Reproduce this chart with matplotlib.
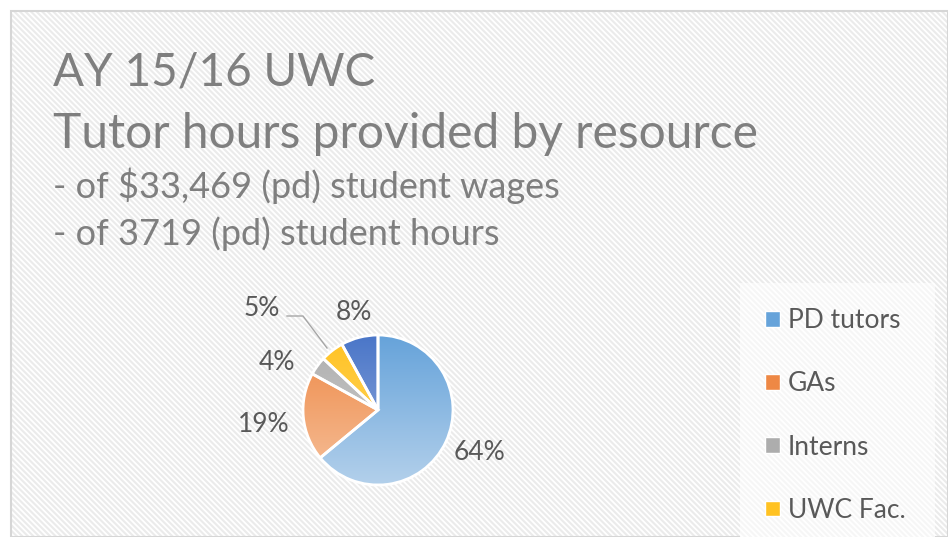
import numpy as np
import matplotlib
matplotlib.use("Agg")
import matplotlib.pyplot as plt
from matplotlib.patches import Rectangle

plt.rcParams['font.family'] = ['Lato', 'DejaVu Sans']
plt.rcParams['hatch.linewidth'] = 1.3

# data
resources = ["PD tutors", "GAs", "Interns", "UWC Fac.", "Other"]
shares = [64, 19, 4, 5, 8]
top_colors = ["#66A3DA", "#EE8845", "#ADADAD", "#FFC222", "#4A76C8"]
bottom_colors = ["#B3D0EB", "#F6C19C", "#D4D4D4", "#FFDA70", "#9AB0DE"]
# label positions (pixels, image coords)
label_pos = [(480, 453), (264, 424), (277, 363), (262, 308), (354, 313)]
n_legend = 4  # only four entries fit in the visible frame

title_lines = ["AY 15/16 UWC", "Tutor hours provided by resource"]
sub_lines = ["- of $33,469 (pd) student wages", "- of 3719 (pd) student hours"]

W, H = 948, 537
fig = plt.figure(figsize=(W / 100, H / 100), dpi=100)
ax = fig.add_axes([0, 0, 1, 1])

# hatched background panel
ax.add_patch(Rectangle((11, 0), W - 11, H - 11, facecolor="#EBEBEB",
                       edgecolor="white", hatch="\\" * 6, lw=0, zorder=0))
ax.add_patch(Rectangle((11, 0), W - 11, H - 11, facecolor="none",
                       edgecolor="#D6D6D6", lw=1.5, zorder=1))
# legend area
ax.add_patch(Rectangle((740, 0), 195, H - 283, facecolor="#F6F6F6",
                       edgecolor="white", hatch="\\" * 6, lw=0, zorder=1))

gray = "#7F7F7F"
fig.text(53 / W, 1 - 85 / H, title_lines[0], fontsize=33, color=gray)
fig.text(53 / W, 1 - 148 / H, title_lines[1], fontsize=34.5, color=gray)
fig.text(53 / W, 1 - 198 / H, sub_lines[0], fontsize=26, color=gray)
fig.text(53 / W, 1 - 245 / H, sub_lines[1], fontsize=26, color=gray)

cx, cy, r = 378, H - 410, 75
wedges, _ = ax.pie(shares, startangle=90, counterclock=False, center=(cx, cy),
                   radius=r, frame=True,
                   wedgeprops=dict(edgecolor="white", linewidth=2),
                   colors=top_colors)
ax.set_xlim(0, W)
ax.set_ylim(0, H)
ax.set_aspect("equal")
ax.axis("off")

# vertical gradient inside each slice
for w, c0, c1 in zip(wedges, top_colors, bottom_colors):
    a = np.array(matplotlib.colors.to_rgb(c0))
    b = np.array(matplotlib.colors.to_rgb(c1))
    t = np.linspace(0, 1, 128)[:, None]
    grad = (a[None, :] * (1 - t) + b[None, :] * t)[:, None, :]
    im = ax.imshow(grad, extent=(cx - r, cx + r, cy - r, cy + r),
                   origin="upper", aspect="auto", zorder=2)
    im.set_clip_path(w)
    w.set_facecolor("none")
    w.set_zorder(3)

for s, (px, py) in zip(shares, label_pos):
    ax.text(px, H - py, f"{s}%", fontsize=19, color="#595959",
            ha="center", va="center", zorder=4)

# leader line for the small slice
ax.plot([287, 303, 327], [H - 316, H - 316, H - 348], color="#A6A6A6", lw=1, zorder=4)

handles = [Rectangle((0, 0), 1, 1, facecolor=c, edgecolor="white")
           for c in top_colors[:n_legend]]
leg = ax.legend(handles, resources[:n_legend], loc="upper left",
                bbox_to_anchor=(740 / W, 1 - 283 / H), bbox_transform=fig.transFigure,
                frameon=False, fontsize=19, labelspacing=1.45, handlelength=0.55,
                handleheight=0.55, handletextpad=0.3, borderpad=0.95, borderaxespad=0)
for txt in leg.get_texts():
    txt.set_color("#595959")

fig.savefig("out.png", dpi=100)
